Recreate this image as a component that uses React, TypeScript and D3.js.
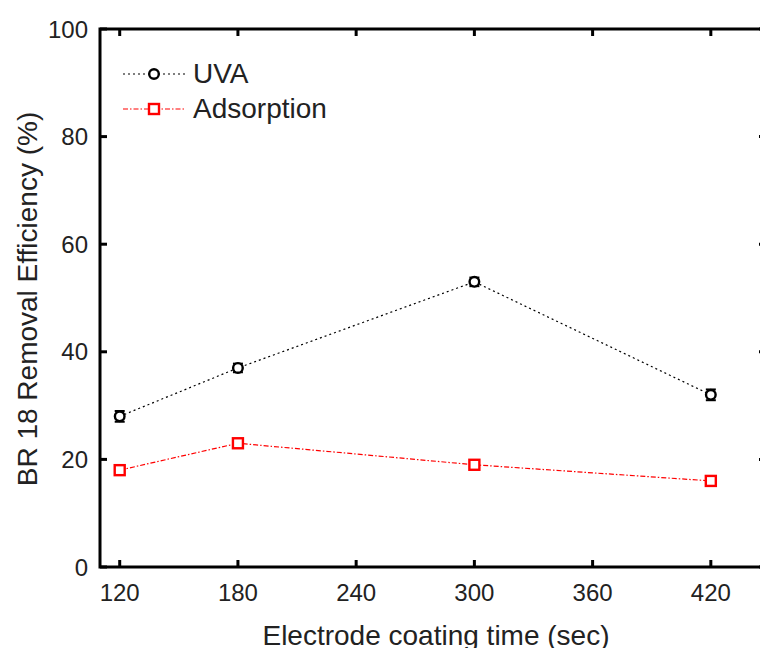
import React, { useEffect, useRef } from 'react';
import * as d3 from 'd3';

// ==== data
const coatingTimes = [120, 180, 300, 420];
const uvaValues = [28, 37, 53, 32];
const uvaErrors = [1, 0.8, 0.8, 1];
const adsorptionValues = [18, 23, 19, 16];
const adsorptionErrors = [0.6, 0.6, 0.6, 0.6];
const xTicks = [120, 180, 240, 300, 360, 420];
const yTicks = [0, 20, 40, 60, 80, 100];

const WIDTH = 760;
const HEIGHT = 648;
const FONT = '"Liberation Sans", Arial, sans-serif';

const margin = { left: 100, top: 29, right: 766, bottom: 567 };

function App() {
    const ref = useRef<SVGSVGElement | null>(null);

    useEffect(() => {
        const svg = d3.select(ref.current);
        svg.selectAll('*').remove();

        const x = d3.scaleLinear().domain([110, 448]).range([margin.left, margin.right]);
        const y = d3.scaleLinear().domain([0, 100]).range([margin.bottom, margin.top]);

        const g = svg.append('g');

        // frame
        g.append('rect')
            .attr('x', margin.left)
            .attr('y', margin.top)
            .attr('width', margin.right - margin.left)
            .attr('height', margin.bottom - margin.top)
            .attr('fill', 'none')
            .attr('stroke', '#000')
            .attr('stroke-width', 3);

        // ticks, all pointing inward
        const tickLen = 7;
        xTicks.forEach((t) => {
            g.append('line')
                .attr('x1', x(t)).attr('x2', x(t))
                .attr('y1', margin.bottom).attr('y2', margin.bottom - tickLen)
                .attr('stroke', '#000').attr('stroke-width', 3);
            g.append('line')
                .attr('x1', x(t)).attr('x2', x(t))
                .attr('y1', margin.top).attr('y2', margin.top + tickLen)
                .attr('stroke', '#000').attr('stroke-width', 3);
            g.append('text')
                .attr('x', x(t))
                .attr('y', 601)
                .attr('text-anchor', 'middle')
                .style('font-family', FONT)
                .style('font-size', '24px')
                .attr('fill', '#222')
                .text(t);
        });

        yTicks.forEach((t) => {
            g.append('line')
                .attr('x1', margin.left).attr('x2', margin.left + tickLen)
                .attr('y1', y(t)).attr('y2', y(t))
                .attr('stroke', '#000').attr('stroke-width', 3);
            g.append('line')
                .attr('x1', margin.right).attr('x2', margin.right - tickLen)
                .attr('y1', y(t)).attr('y2', y(t))
                .attr('stroke', '#000').attr('stroke-width', 3);
            g.append('text')
                .attr('x', 88)
                .attr('y', y(t) + 8.5)
                .attr('text-anchor', 'end')
                .style('font-family', FONT)
                .style('font-size', '24px')
                .attr('fill', '#222')
                .text(t);
        });

        // axis titles
        g.append('text')
            .attr('x', 436)
            .attr('y', 645)
            .attr('text-anchor', 'middle')
            .style('font-family', FONT)
            .style('font-size', '28px')
            .attr('fill', '#222')
            .text('Electrode coating time (sec)');

        g.append('text')
            .attr('transform', 'translate(37, 299) rotate(-90)')
            .attr('text-anchor', 'middle')
            .style('font-family', FONT)
            .style('font-size', '28px')
            .attr('fill', '#222')
            .text('BR 18 Removal Efficiency (%)');

        const series = [
            { name: 'UVA', values: uvaValues, errors: uvaErrors, color: '#000', dash: '2,3', marker: 'circle' },
            { name: 'Adsorption', values: adsorptionValues, errors: adsorptionErrors, color: '#f00', dash: '5,2,1.5,2', marker: 'square' }
        ];

        const line = d3.line<[number, number]>()
            .x((d) => x(d[0]))
            .y((d) => y(d[1]));

        series.forEach((s) => {
            const pts: [number, number][] = coatingTimes.map((t, i) => [t, s.values[i]]);

            g.append('path')
                .attr('d', line(pts) || '')
                .attr('fill', 'none')
                .attr('stroke', s.color)
                .attr('stroke-width', 1.2)
                .attr('stroke-dasharray', s.dash);

            // error bars
            pts.forEach((p, i) => {
                const e = s.errors[i];
                const cx = x(p[0]);
                g.append('line')
                    .attr('x1', cx).attr('x2', cx)
                    .attr('y1', y(p[1] - e)).attr('y2', y(p[1] + e))
                    .attr('stroke', s.color).attr('stroke-width', 2);
                [p[1] - e, p[1] + e].forEach((v) => {
                    g.append('line')
                        .attr('x1', cx - 5).attr('x2', cx + 5)
                        .attr('y1', y(v)).attr('y2', y(v))
                        .attr('stroke', s.color).attr('stroke-width', 2);
                });
            });

            pts.forEach((p) => {
                if (s.marker === 'circle') {
                    g.append('circle')
                        .attr('cx', x(p[0])).attr('cy', y(p[1]))
                        .attr('r', 4.8)
                        .attr('fill', '#fff')
                        .attr('stroke', s.color)
                        .attr('stroke-width', 2.4);
                } else {
                    g.append('rect')
                        .attr('x', x(p[0]) - 5).attr('y', y(p[1]) - 5)
                        .attr('width', 10).attr('height', 10)
                        .attr('fill', '#fff')
                        .attr('stroke', s.color)
                        .attr('stroke-width', 2.4);
                }
            });
        });

        // legend
        series.forEach((s, i) => {
            const ly = 74 + i * 35;
            g.append('line')
                .attr('x1', 123).attr('x2', 185)
                .attr('y1', ly).attr('y2', ly)
                .attr('stroke', s.color)
                .attr('stroke-width', 1.2)
                .attr('stroke-dasharray', s.dash);
            if (s.marker === 'circle') {
                g.append('circle')
                    .attr('cx', 154).attr('cy', ly)
                    .attr('r', 4.8)
                    .attr('fill', '#fff')
                    .attr('stroke', s.color)
                    .attr('stroke-width', 2.4);
            } else {
                g.append('rect')
                    .attr('x', 149).attr('y', ly - 5)
                    .attr('width', 10).attr('height', 10)
                    .attr('fill', '#fff')
                    .attr('stroke', s.color)
                    .attr('stroke-width', 2.4);
            }
            g.append('text')
                .attr('x', 193)
                .attr('y', ly + 9)
                .style('font-family', FONT)
                .style('font-size', '28px')
                .attr('fill', '#222')
                .text(s.name);
        });
    }, []);

    return (
        <svg
            ref={ref}
            width={WIDTH}
            height={HEIGHT}
            style={{ position: 'absolute', left: 0, top: 0, background: '#fff' }}>
        </svg>
    );
}

export default App;
